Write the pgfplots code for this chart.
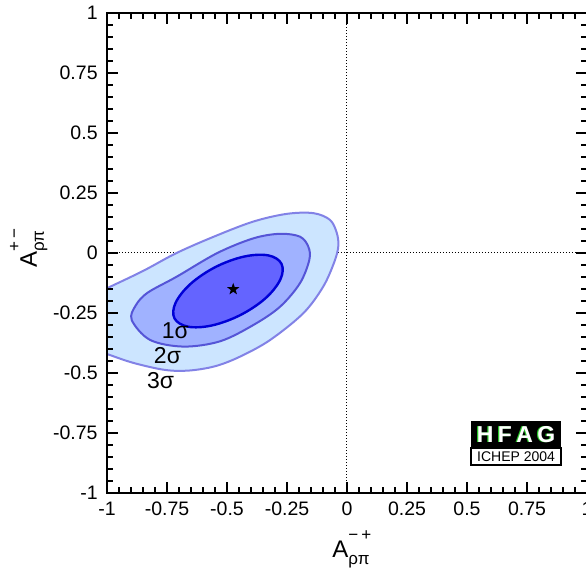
\documentclass[border=0pt]{standalone}
\usepackage{fontspec}
\setmainfont{Liberation Sans}
\usepackage{pgfplots}
\pgfplotsset{compat=1.18}

\definecolor{cthreefill}{RGB}{204,229,255}
\definecolor{cthreeline}{RGB}{130,130,230}
\definecolor{ctwofill}{RGB}{160,178,255}
\definecolor{ctwoline}{RGB}{85,85,215}
\definecolor{conefill}{RGB}{100,100,255}
\definecolor{coneline}{RGB}{0,0,215}
\definecolor{hfgreen}{RGB}{40,200,40}

\pgfdeclareplotmark{fivestar}{%
  \pgfpathmoveto{\pgfpointpolar{90}{\pgfplotmarksize}}%
  \pgfpathlineto{\pgfpointpolar{126}{0.4*\pgfplotmarksize}}%
  \pgfpathlineto{\pgfpointpolar{162}{\pgfplotmarksize}}%
  \pgfpathlineto{\pgfpointpolar{198}{0.4*\pgfplotmarksize}}%
  \pgfpathlineto{\pgfpointpolar{234}{\pgfplotmarksize}}%
  \pgfpathlineto{\pgfpointpolar{270}{0.4*\pgfplotmarksize}}%
  \pgfpathlineto{\pgfpointpolar{306}{\pgfplotmarksize}}%
  \pgfpathlineto{\pgfpointpolar{342}{0.4*\pgfplotmarksize}}%
  \pgfpathlineto{\pgfpointpolar{18}{\pgfplotmarksize}}%
  \pgfpathlineto{\pgfpointpolar{54}{0.4*\pgfplotmarksize}}%
  \pgfpathclose
  \pgfusepathqfill
}

\newcommand{\sublab}[1]{{\fontsize{8.5}{9}\selectfont #1}}
\newcommand{\Alab}[1]{A\rlap{\raisebox{-3.5pt}{\sublab{ρπ}}}\raisebox{8.5pt}{\sublab{#1}}}

\begin{document}
\begin{tikzpicture}
\begin{axis}[
  at={(0,0)}, anchor=south west,
  scale only axis, width=240pt, height=240pt,
  xmin=-1, xmax=1, ymin=-1, ymax=1,
  xtick={-1,-0.75,-0.5,-0.25,0,0.25,0.5,0.75,1},
  ytick={-1,-0.75,-0.5,-0.25,0,0.25,0.5,0.75,1},
  xticklabels={-1,-0.75,-0.5,-0.25,0,0.25,0.5,0.75,1},
  yticklabels={-1,-0.75,-0.5,-0.25,0,0.25,0.5,0.75,1},
  minor tick num=4,
  tick align=inside,
  major tick length=5.3pt, minor tick length=2.8pt,
  axis line style={line width=0.9pt},
  tick style={black, line width=0.6pt},
  tick label style={font=\fontsize{9.75}{11}\selectfont, inner sep=0pt},
  xticklabel style={yshift=-4.5pt},
  yticklabel style={xshift=-4.5pt},
  axis on top,
]
% reference lines
\addplot[black, line width=0.5pt, dash pattern=on 0.5pt off 1pt] coordinates {(0,-1) (0,1)};
\addplot[black, line width=0.5pt, dash pattern=on 0.5pt off 1pt] coordinates {(-1,0) (1,0)};

% 3 sigma
\addplot[fill=cthreefill, draw=cthreeline, line width=1pt, smooth cycle, tension=0.55] coordinates {
 (-1.10,-0.29) (-1.08,-0.187) (-1.0,-0.147) (-0.85,-0.075) (-0.71,0.0) (-0.55,0.07)
 (-0.39,0.131) (-0.251,0.163) (-0.140,0.166) (-0.071,0.138) (-0.043,0.085)
 (-0.036,0.030) (-0.052,-0.035) (-0.099,-0.140) (-0.182,-0.251) (-0.321,-0.363)
 (-0.446,-0.432) (-0.55,-0.472) (-0.66,-0.490) (-0.76,-0.487) (-0.89,-0.458)
 (-1.0,-0.421) (-1.08,-0.394)
};
% 2 sigma
\addplot[fill=ctwofill, draw=ctwoline, line width=1pt, smooth cycle, tension=0.55] coordinates {
 (-0.897,-0.279) (-0.880,-0.218) (-0.830,-0.165) (-0.71,-0.099) (-0.54,0.0) (-0.39,0.061) (-0.279,0.080)
 (-0.196,0.068) (-0.161,0.026) (-0.157,-0.029) (-0.196,-0.126) (-0.279,-0.224)
 (-0.390,-0.300) (-0.529,-0.368) (-0.682,-0.390) (-0.821,-0.362)
};
% 1 sigma
\addplot[fill=conefill, draw=coneline, line width=1.2pt, smooth cycle, tension=0.6] coordinates {
 (-0.273,-0.045) (-0.2775,-0.110) (-0.340,-0.189) (-0.445,-0.259) (-0.563,-0.302)
 (-0.663,-0.307) (-0.719,-0.272) (-0.714,-0.207) (-0.651,-0.128) (-0.547,-0.058)
 (-0.429,-0.015) (-0.328,-0.010)
};
% central value
\addplot[only marks, mark=fivestar, mark size=3.2pt, black] coordinates {(-0.474,-0.151)};

\node[font=\fontsize{11.5}{13}\selectfont] at (axis cs:-0.715,-0.323) {1σ};
\node[font=\fontsize{11.5}{13}\selectfont] at (axis cs:-0.748,-0.427) {2σ};
\node[font=\fontsize{11.5}{13}\selectfont] at (axis cs:-0.777,-0.531) {3σ};

% HFAG logo
\fill[black] (axis cs:0.517,-0.700) rectangle (axis cs:0.892,-0.8125);
\draw[black, line width=0.6pt, fill=white] (axis cs:0.517,-0.8125) rectangle (axis cs:0.892,-0.883);
\draw[black, line width=1.2pt] (axis cs:0.892,-0.8125) -- (axis cs:0.892,-0.883) -- (axis cs:0.517,-0.883);
\node[text=hfgreen, font=\fontsize{11.5}{12}\selectfont\bfseries, xshift=-0.6pt, yshift=-0.3pt] at (axis cs:0.7045,-0.756) {H\kern2.2pt F\kern2.2pt A\kern2.2pt G};
\node[text=white, font=\fontsize{11.5}{12}\selectfont\bfseries] at (axis cs:0.7045,-0.756) {H\kern2.2pt F\kern2.2pt A\kern2.2pt G};
\node[font=\fontsize{7}{8}\selectfont] at (axis cs:0.7045,-0.848) {ICHEP 2004};
\end{axis}
% axis labels
\node[anchor=base west, inner sep=0pt, font=\fontsize{12}{14}\selectfont] at (112.5pt,-32.5pt) {\Alab{−\kern1.5pt+}};
\node[anchor=base west, inner sep=0pt, rotate=90, font=\fontsize{12}{14}\selectfont] at (-35pt,112.5pt) {\Alab{+\kern1.5pt−}};
\pgfresetboundingbox
\path[use as bounding box] (-53.5pt,-41.5pt) rectangle (239.5pt,246.5pt);
\end{tikzpicture}
\end{document}
